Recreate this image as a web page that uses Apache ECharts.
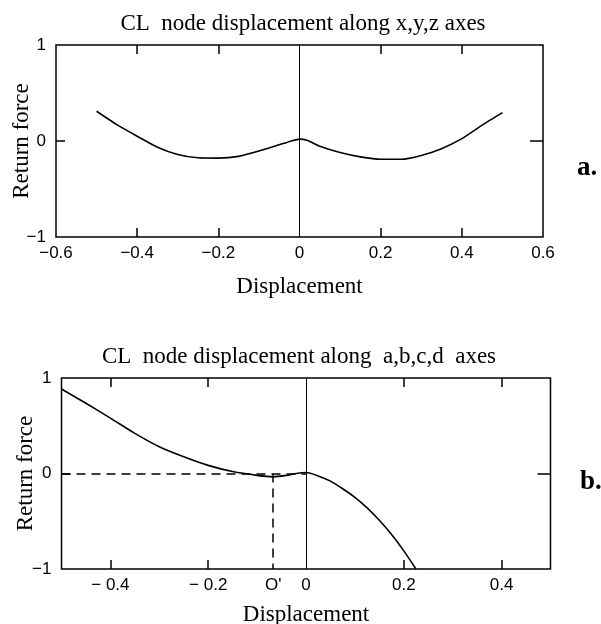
<!DOCTYPE html>
<html><head><meta charset="utf-8">
<script src="https://cdn.jsdelivr.net/npm/echarts@6/dist/echarts.min.js"></script>
<style>html,body{margin:0;padding:0;background:#fff}#c{width:601px;height:624px}</style>
</head><body><div id="c"></div>
<script>
// Chart a: CL node displacement along x,y,z axes
const titleA = 'CL  node displacement along x,y,z axes';
const xA = [-0.5,-0.45,-0.4,-0.35,-0.3,-0.25,-0.2,-0.15,-0.1,-0.05,-0.02,0,0.02,0.05,0.1,0.15,0.2,0.25,0.3,0.35,0.4,0.45,0.5];
const yA = [0.31,0.17,0.05,-0.065,-0.14,-0.175,-0.178,-0.16,-0.105,-0.04,0.0,0.02,0.005,-0.055,-0.12,-0.165,-0.19,-0.19,-0.15,-0.08,0.025,0.165,0.295];
const xTicksA = [-0.6,-0.4,-0.2,0,0.2,0.4,0.6];
const xInnerTicksA = [-0.4,-0.2,0.2,0.4];
// Chart b: CL node displacement along a,b,c,d axes
const titleB = 'CL  node displacement along  a,b,c,d  axes';
const xB = [-0.5,-0.45,-0.4,-0.35,-0.3,-0.25,-0.2,-0.15,-0.1,-0.067,-0.04,-0.02,0,0.025,0.05,0.075,0.1,0.125,0.15,0.175,0.2,0.225];
const yB = [0.885,0.735,0.58,0.42,0.28,0.175,0.085,0.02,-0.02,-0.035,-0.02,0.0,0.01,-0.025,-0.08,-0.16,-0.25,-0.36,-0.49,-0.64,-0.81,-1.0];
const oPrime = -0.067;
const xTicksB = [-0.4,-0.2,oPrime,0,0.2,0.4];
const xInnerTicksB = [-0.4,-0.2,0.2,0.4];
const yTicks = [-1,0,1];
const xRangeA = [-0.6,0.6];
const xRangeB = [-0.5,0.5];
const yRange = [-1,1];

const serif = 'Liberation Serif';
const sans = 'Liberation Sans';
const fmt = v => Math.abs(v - oPrime) < 1e-9 ? "O'" : (v === 0 ? '0' : String(v).replace('-', '\u2212'));
const fmtB = v => Math.abs(v - oPrime) < 1e-9 ? "O'" : (v === 0 ? '0' : String(v).replace('-', '\u2212 '));

const tickStyle = {color: '#000', width: 1.5};
function xAxes(gi, range, labels, inner, f) {
  return [
    {gridIndex: gi, type: 'value', min: range[0], max: range[1], position: 'bottom',
     axisLine: {show: false, onZero: false}, splitLine: {show: false},
     axisTick: {show: true, inside: true, length: 9, customValues: inner, lineStyle: tickStyle},
     axisLabel: {customValues: labels, formatter: f, color: '#000', fontFamily: sans, fontSize: 17, margin: 8},
     name: 'Displacement', nameLocation: 'middle', nameGap: gi === 0 ? 38 : 34, nameMoveOverlap: false,
     nameTextStyle: {fontFamily: serif, fontSize: 23, color: '#000'}},
    {gridIndex: gi, type: 'value', min: range[0], max: range[1], position: 'top',
     axisLine: {show: false, onZero: false}, splitLine: {show: false}, axisLabel: {show: false},
     axisTick: {show: true, inside: true, length: 9, customValues: inner, lineStyle: tickStyle}}
  ];
}
function yAxes(gi) {
  return [
    {gridIndex: gi, type: 'value', min: yRange[0], max: yRange[1], position: 'left',
     axisLine: {show: false, onZero: false}, splitLine: {show: false},
     axisTick: {show: true, inside: true, length: 9, customValues: [0], lineStyle: tickStyle},
     axisLabel: {customValues: yTicks, formatter: fmt, color: '#000', fontFamily: sans, fontSize: 17, margin: 10},
     name: 'Return force', nameLocation: 'middle', nameGap: gi === 0 ? 23 : 24, nameRotate: 90, nameMoveOverlap: false,
     nameTextStyle: {fontFamily: serif, fontSize: 23, color: '#000'}},
    {gridIndex: gi, type: 'value', min: yRange[0], max: yRange[1], position: 'right',
     axisLine: {show: false, onZero: false}, splitLine: {show: false}, axisLabel: {show: false},
     axisTick: {show: true, inside: true, length: 13, customValues: [0], lineStyle: tickStyle}}
  ];
}

const chart = echarts.init(document.getElementById('c'), null, {renderer: 'canvas'});
chart.setOption({
  backgroundColor: '#fff',
  animation: false,
  title: [
    {text: titleA, left: 298, top: 7, textAlign: 'center', textStyle: {fontFamily: serif, fontSize: 23, fontWeight: 'normal', color: '#000'}},
    {text: titleB, left: 294, top: 340, textAlign: 'center', textStyle: {fontFamily: serif, fontSize: 23, fontWeight: 'normal', color: '#000'}},
    {text: 'a.', left: 572, top: 150, textStyle: {fontFamily: serif, fontSize: 27, fontWeight: 'bold', color: '#000'}},
    {text: 'b.', left: 575, top: 464, textStyle: {fontFamily: serif, fontSize: 27, fontWeight: 'bold', color: '#000'}}
  ],
  grid: [
    {left: 56, top: 45, width: 487, height: 192, show: true, borderColor: '#000', borderWidth: 1.5, backgroundColor: 'transparent', outerBoundsMode: 'none', containLabel: false},
    {left: 61.5, top: 378, width: 489, height: 191, show: true, borderColor: '#000', borderWidth: 1.5, backgroundColor: 'transparent', outerBoundsMode: 'none', containLabel: false}
  ],
  xAxis: [...xAxes(0, xRangeA, xTicksA, xInnerTicksA, fmt), ...xAxes(1, xRangeB, xTicksB, xInnerTicksB, fmtB)],
  yAxis: [...yAxes(0), ...yAxes(1)],
  series: [
    {type: 'line', xAxisIndex: 0, yAxisIndex: 0, data: xA.map((x, i) => [x, yA[i]]),
     smooth: 0.2, symbol: 'none', lineStyle: {color: '#000', width: 1.6},
     markLine: {silent: true, symbol: 'none', label: {show: false},
       lineStyle: {color: '#000', width: 1, type: 'solid'},
       data: [{xAxis: 0}]}},
    {type: 'line', xAxisIndex: 2, yAxisIndex: 2, data: xB.map((x, i) => [x, yB[i]]),
     smooth: 0.2, symbol: 'none', lineStyle: {color: '#000', width: 1.6},
     markLine: {silent: true, symbol: 'none', label: {show: false},
       data: [
         {xAxis: 0, lineStyle: {color: '#000', width: 1, type: 'solid'}},
         [{coord: [xRangeB[0], 0], lineStyle: {color: '#000', width: 1.5, type: [9, 6]}}, {coord: [0, 0]}],
         [{coord: [oPrime, 0], lineStyle: {color: '#000', width: 1.5, type: [9, 6]}}, {coord: [oPrime, yRange[0]]}]
       ]}}
  ]
});
</script></body></html>
